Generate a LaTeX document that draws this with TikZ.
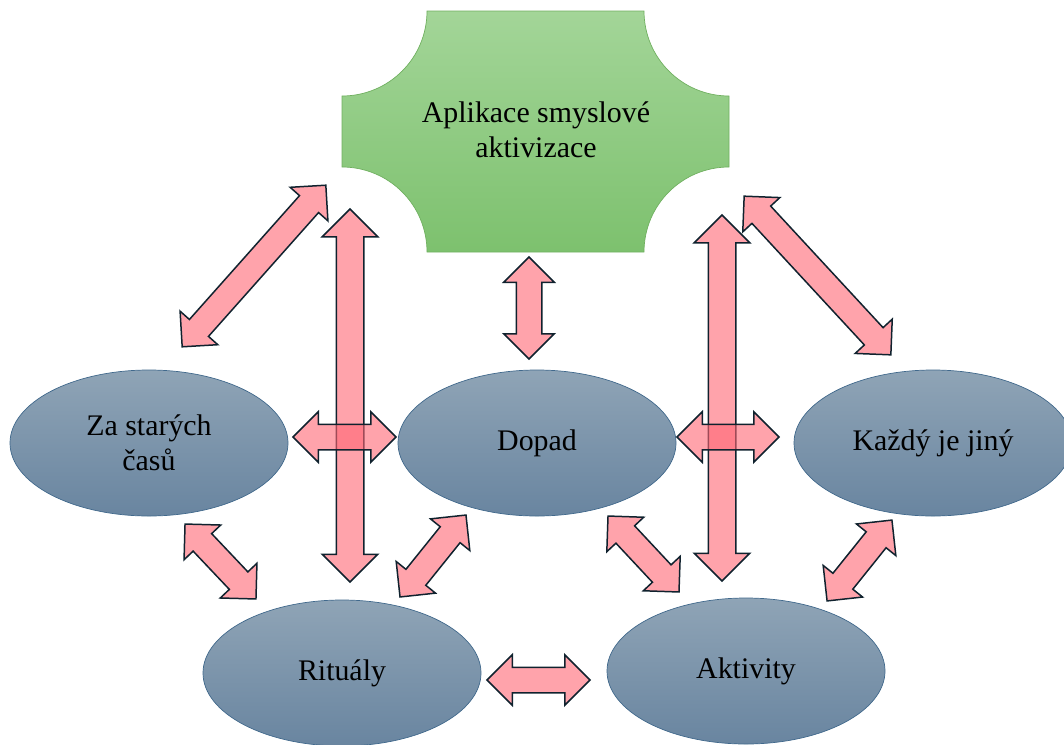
\documentclass[tikz,border=0pt]{standalone}
\usepackage{fontspec}
\setmainfont{Liberation Serif}
\usetikzlibrary{shapes.geometric,shapes.arrows,calc}

\definecolor{ovaltop}{RGB}{143,164,182}
\definecolor{ovalbottom}{RGB}{105,133,160}
\definecolor{ovalline}{RGB}{65,105,140}
\definecolor{apptop}{RGB}{163,213,152}
\definecolor{appbottom}{RGB}{125,193,110}
\definecolor{appline}{RGB}{112,176,96}
\definecolor{arrfill}{RGB}{255,101,115}
\definecolor{arrline}{RGB}{16,34,46}

\tikzset{
  oval/.style={ellipse, draw=ovalline, line width=0.4pt, top color=ovaltop, bottom color=ovalbottom,
    minimum width=55.6mm, minimum height=29.2mm, inner sep=0pt, align=center,
    font=\fontsize{17}{20}\selectfont},
  apptext/.style={align=center, font=\fontsize{17}{20}\selectfont},
  biarr/.style={double arrow, draw=arrline, line width=0.85pt, fill=arrfill, fill opacity=0.6,
    draw opacity=1, inner xsep=0pt, inner ysep=2.4mm, double arrow head extend=2.5mm},
  biarrlong/.style={biarr, inner ysep=2.6mm, double arrow head extend=2.8mm}
}

% double arrow from tip to tip
\newcommand{\biarrow}[3][]{%
  \path let \p1=(#2), \p2=(#3), \n1={atan2(\y2-\y1,\x2-\x1)}, \n2={veclen(\x2-\x1,\y2-\y1)} in
    node[biarr, #1, rotate=\n1, minimum height=\n2] at ($(#2)!0.5!(#3)$) {};}

\begin{document}
\begin{tikzpicture}[x=0.2mm, y=-0.2mm]
    \useasboundingbox (0,0) rectangle (1064,744);

    % Top shape
    \draw[appline, line width=0.4pt, top color=apptop, bottom color=appbottom]
      (427,11) -- (644,11) .. controls (644,58) and (682,96) .. (729,96) -- (729,167)
      .. controls (682,167) and (644,205) .. (644,252) -- (427,252)
      .. controls (427,205) and (389,167) .. (342,167) -- (342,96)
      .. controls (389,96) and (427,58) .. (427,11) -- cycle;
    \node[apptext] (app) at (536,130) {Aplikace smyslové\\aktivizace};

    % Nodes
    \node[oval] (stare) at (149,443) {Za starých\\časů};
    \node[oval] (dopad) at (537,443) {Dopad};
    \node[oval] (kazdy) at (933,443) {Každý je jiný};
    \node[oval] (ritualy) at (342,673) {Rituály};
    \node[oval] (aktivity) at (746,671) {Aktivity};

    % Arrow ends
    \coordinate (s1) at (182,347);  \coordinate (s2) at (326,185);
    \coordinate (l1) at (350,209);  \coordinate (l2) at (350,582);
    \coordinate (h1) at (293,437);  \coordinate (h2) at (396,437);
    \coordinate (d1) at (529,257);  \coordinate (d2) at (529,359);
    \coordinate (h3) at (677,437);  \coordinate (h4) at (779,437);
    \coordinate (r1) at (722,215);  \coordinate (r2) at (722,581);
    \coordinate (k1) at (744,196);  \coordinate (k2) at (891,355);
    \coordinate (b1) at (185,524);  \coordinate (b2) at (256,599);
    \coordinate (b3) at (400,597);  \coordinate (b4) at (466,515);
    \coordinate (b5) at (608,516);  \coordinate (b6) at (679,592);
    \coordinate (b7) at (827,601);  \coordinate (b8) at (892,520);
    \coordinate (f1) at (487,680);  \coordinate (f2) at (590,680);

    % Arrows
    \biarrow{s1}{s2}
    \biarrow[biarrlong]{l1}{l2}
    \biarrow{h1}{h2}
    \biarrow{d1}{d2}
    \biarrow[biarrlong]{r1}{r2}
    \biarrow{h3}{h4}
    \biarrow{k1}{k2}
    \biarrow{b1}{b2}
    \biarrow{b3}{b4}
    \biarrow{b5}{b6}
    \biarrow{b7}{b8}
    \biarrow{f1}{f2}
\end{tikzpicture}
\end{document}
